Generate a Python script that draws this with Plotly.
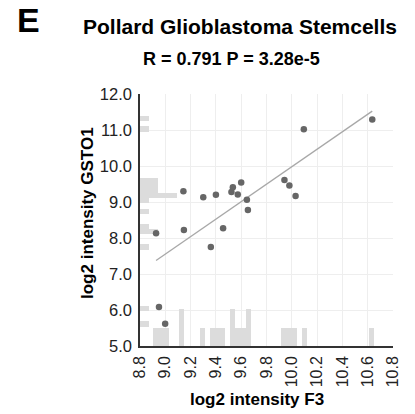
import numpy as np
import plotly.graph_objects as go

# Data
f3 = [8.927, 8.950, 8.999, 9.143, 9.147, 9.300, 9.360, 9.400, 9.457, 9.523,
      9.534, 9.573, 9.600, 9.645, 9.653, 9.942, 9.981, 10.030, 10.095, 10.636]
gsto1 = [8.13, 6.08, 5.62, 9.30, 8.22, 9.13, 7.75, 9.20, 8.27, 9.28,
         9.41, 9.21, 9.54, 9.06, 8.78, 9.61, 9.46, 9.17, 11.02, 11.29]

x_ticks = [8.8, 9.0, 9.2, 9.4, 9.6, 9.8, 10.0, 10.2, 10.4, 10.6, 10.8]
y_ticks = [5.0, 6.0, 7.0, 8.0, 9.0, 10.0, 11.0, 12.0]

panel_label = "E"
title = "Pollard Glioblastoma Stemcells"
subtitle = "R = 0.791 P = 3.28e-5"
x_title = "log2 intensity F3"
y_title = "log2 intensity GSTO1"

# Marginal histogram settings
xbin_start, xbin_size, xbin_n = 8.906, 0.0405, 43
ybin_start, ybin_size, ybin_n = 5.54, 0.1425, 41
x_hist_unit = 0.51   # y-units per count
y_hist_unit = 0.073  # x-units per count

X0, X1 = 8.8, 10.8
Y0, Y1 = 5.0, 12.0

xa = np.array(f3)
ya = np.array(gsto1)

xedges = xbin_start + xbin_size * np.arange(xbin_n + 1)
yedges = ybin_start + ybin_size * np.arange(ybin_n + 1)
xc, _ = np.histogram(xa, bins=xedges)
yc, _ = np.histogram(ya, bins=yedges)
xcent = (xedges[:-1] + xedges[1:]) / 2
ycent = (yedges[:-1] + yedges[1:]) / 2
mx = xc > 0
my = yc > 0

hist_color = "#dcdcdc"
fig = go.Figure()
fig.add_trace(go.Bar(x=xcent[mx], y=xc[mx] * x_hist_unit, base=Y0, width=xbin_size,
                     marker=dict(color=hist_color, line=dict(width=0)), hoverinfo="skip"))
fig.add_trace(go.Bar(y=ycent[my], x=yc[my] * y_hist_unit, base=X0, width=ybin_size,
                     orientation="h",
                     marker=dict(color=hist_color, line=dict(width=0)), hoverinfo="skip"))

slope, intercept = np.polyfit(xa, ya, 1)
lx = np.array([xa.min(), xa.max()])
fig.add_trace(go.Scatter(x=lx, y=slope * lx + intercept, mode="lines",
                         line=dict(color="#a8a8a8", width=1.3), hoverinfo="skip"))
fig.add_trace(go.Scatter(x=f3, y=gsto1, mode="markers",
                         marker=dict(color="#666666", size=6.5, line=dict(width=0))))

font = "Liberation Sans, Arial, sans-serif"
W, H = 415, 414
l, r, t, b = 140, 22, 94, 68
pw, ph = W - l - r, H - t - b


def px_ann(text, x, y, size, angle=0):
    return dict(text=text, x=(x - l) / pw, y=1 - (y - t) / ph,
                xref="paper", yref="paper", xanchor="center", yanchor="middle",
                showarrow=False, textangle=angle,
                font=dict(size=size, color="black", family=font))


fig.update_layout(
    width=W, height=H,
    margin=dict(l=l, r=r, t=t, b=b),
    paper_bgcolor="white", plot_bgcolor="white",
    showlegend=False, barmode="overlay", bargap=0,
    font=dict(family=font, color="#222222"),
    xaxis=dict(range=[X0, X1], tickvals=x_ticks, ticktext=[f"{v:.1f}" for v in x_ticks],
               tickangle=-90, tickfont=dict(size=16, color="#222222"),
               showgrid=True, gridcolor="#eeeeee", gridwidth=1, zeroline=False,
               showline=True, linecolor="#333333", linewidth=1.5, ticks="",
               ticklabelstandoff=2),
    yaxis=dict(range=[Y0, Y1], tickvals=y_ticks, ticktext=[f"{v:.1f}" for v in y_ticks],
               tickfont=dict(size=16.5, color="#222222"),
               showgrid=True, gridcolor="#eeeeee", gridwidth=1, zeroline=False,
               showline=True, linecolor="#333333", linewidth=1.5, ticks="",
               ticklabelstandoff=3),
    annotations=[
        px_ann(f"<b>{panel_label}</b>", 28, 20, 34),
        px_ann(f"<b>{title}</b>", 240, 26, 21),
        px_ann(f"<b>{subtitle}</b>", 231, 59, 18),
        px_ann(f"<b>{x_title}</b>", 257, 399, 17),
        px_ann(f"<b>{y_title}</b>", 87, 213, 17, -90),
    ],
)

fig.write_html("out.html")
